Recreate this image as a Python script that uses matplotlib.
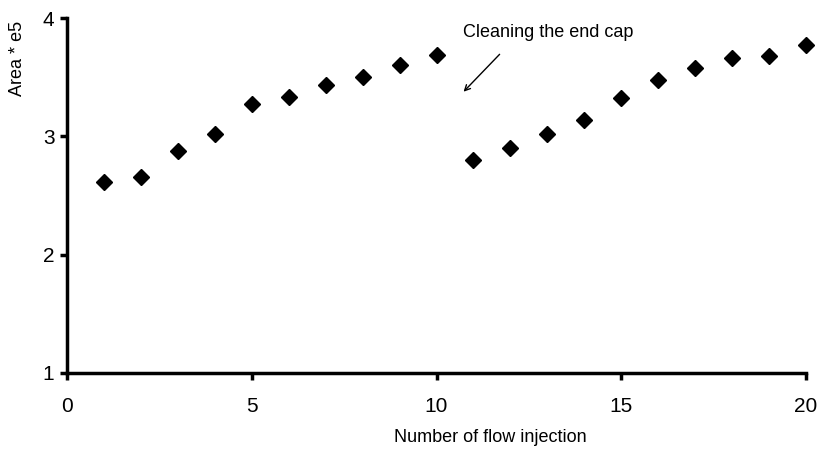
import matplotlib
matplotlib.use("Agg")
import matplotlib.pyplot as plt

# Data
injection = list(range(1, 21))
area = [2.61, 2.66, 2.88, 3.02, 3.27, 3.33, 3.43, 3.50, 3.60, 3.69,
        2.80, 2.90, 3.02, 3.14, 3.32, 3.48, 3.58, 3.66, 3.68, 3.77]
x_ticks = [0, 5, 10, 15, 20]
y_ticks = [1, 2, 3, 4]

plt.rcParams['font.family'] = ['Liberation Sans', 'DejaVu Sans']

fig = plt.figure(figsize=(8.19, 4.49), dpi=100)
ax = fig.add_axes([67 / 819, 1 - 373 / 449, (806 - 67) / 819, (373 - 18) / 449])

ax.plot(injection, area, 'D', color='black', markersize=8, clip_on=False)

ax.set_xlim(0, 20)
ax.set_ylim(1, 4)
ax.set_xticks(x_ticks)
ax.set_yticks(y_ticks)
ax.tick_params(direction='out', length=5, width=2.5, labelsize=15, pad=12)
ax.tick_params(axis='y', pad=4)

for side in ['top', 'right']:
    ax.spines[side].set_visible(False)
for side in ['left', 'bottom']:
    ax.spines[side].set_linewidth(2.5)

# annotation text and arrow
ax.text(10.72, 3.88, 'Cleaning the end cap', fontsize=13, va='center', ha='left')
ax.annotate('', xy=(10.68, 3.36), xytext=(11.76, 3.71),
            arrowprops=dict(arrowstyle='->', color='black', lw=1))

fig.text(18 / 819, 1 - 58 / 449, 'Area * e5', rotation=90, fontsize=13,
         ha='center', va='center')
fig.text(490 / 819, 1 - 438 / 449, 'Number of flow injection', fontsize=13,
         ha='center', va='center')

fig.savefig('out.png', dpi=100)
